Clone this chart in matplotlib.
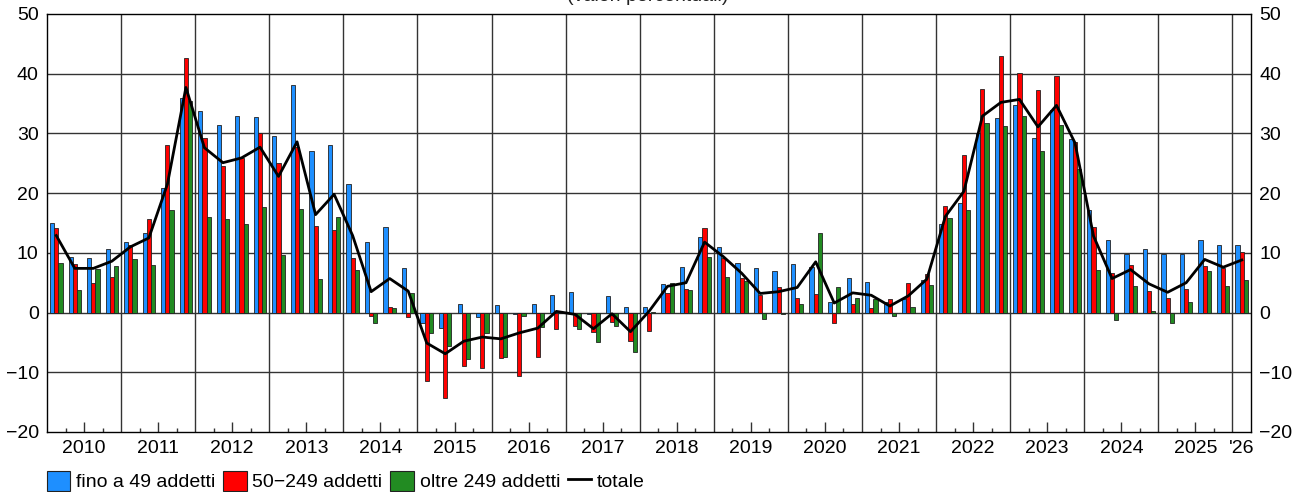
import matplotlib
matplotlib.use("Agg")
import matplotlib.pyplot as plt
from matplotlib.patches import Patch
from matplotlib.lines import Line2D
import numpy as np

plt.rcParams['font.family'] = ['Liberation Sans', 'DejaVu Sans']

year_labels = [str(y) for y in range(2010, 2026)] + ["'26"]
series_names = ["fino a 49 addetti", "50\u2212249 addetti", "oltre 249 addetti", "totale"]

# quarterly values 2010Q1 .. 2026Q1
small = [15.0, 9.3, 9.2, 10.6,
         11.9, 13.3, 20.9, 35.9,
         33.8, 31.4, 33.0, 32.8,
         29.6, 38.1, 27.1, 28.0,
         21.6, 11.8, 14.3, 7.4,
         -1.7, -2.5, 1.5, -0.7,
         1.3, -0.3, 1.5, 3.0,
         3.5, -0.3, 2.8, 1.0,
         1.0, 4.8, 7.6, 12.6,
         11.0, 8.3, 7.5, 6.9,
         8.2, 7.7, 1.8, 5.8,
         5.2, 1.8, 2.2, 5.5,
         14.8, 18.3, 30.0, 32.6,
         34.8, 29.3, 34.0, 29.1,
         17.2, 12.1, 9.8, 10.7,
         9.8, 9.8, 12.1, 11.3,
         11.3]
medium = [14.2, 8.2, 4.9, 6.0,
          11.3, 15.7, 28.0, 42.7,
          29.2, 24.5, 25.9, 30.0,
          25.0, 27.7, 14.5, 13.8,
          9.1, -0.6, 0.9, -0.8,
          -11.4, -14.3, -8.9, -9.2,
          -7.6, -10.7, -7.4, -2.8,
          -2.3, -3.2, -1.6, -4.8,
          -3.1, 3.2, 4.0, 14.1,
          9.2, 5.8, 2.9, 4.2,
          2.4, 3.1, -1.8, 1.4,
          0.7, 2.2, 5.0, 6.4,
          17.9, 26.4, 37.5, 42.9,
          40.2, 37.3, 39.6, 28.6,
          14.3, 6.7, 7.9, 3.6,
          2.5, 3.9, 7.8, 7.4,
          10.1]
large = [8.3, 3.8, 7.3, 7.8,
         8.9, 8.0, 17.1, 35.5,
         16.0, 15.7, 14.8, 17.7,
         9.7, 17.3, 5.7, 16.0,
         7.1, -1.8, 0.7, 3.2,
         -3.5, -5.6, -7.8, -3.4,
         -7.4, -0.6, -2.4, 0.0,
         -2.8, -4.9, -2.3, -6.6,
         0.1, 5.0, 3.7, 9.3,
         5.9, 5.3, -1.0, -0.3,
         1.4, 13.4, 4.3, 2.4,
         2.2, -0.6, 0.9, 4.7,
         15.8, 17.2, 31.7, 31.2,
         33.0, 27.0, 31.4, 24.0,
         7.1, -1.3, 4.4, 0.2,
         -1.8, 1.7, 6.9, 4.4,
         5.4]
total = [12.9, 7.4, 7.4, 8.6,
         11.0, 12.5, 21.5, 37.7,
         27.6, 25.1, 25.9, 27.7,
         22.8, 28.6, 16.4, 19.8,
         12.9, 3.5, 5.7, 3.6,
         -5.1, -6.9, -4.8, -4.1,
         -4.4, -3.4, -2.6, 0.2,
         -0.3, -2.7, -0.2, -3.2,
         0.2, 4.4, 5.0, 11.8,
         9.4, 6.6, 3.2, 3.5,
         4.2, 8.5, 1.6, 3.3,
         2.9, 1.1, 2.8, 5.6,
         16.1, 20.3, 32.9, 35.2,
         35.7, 31.1, 34.7, 28.4,
         12.8, 5.7, 7.2, 4.8,
         3.4, 5.0, 8.9, 7.6,
         8.8]

colors = ['#1E8FFF', '#FF0000', '#228B22']
FS = 14

fig = plt.figure(figsize=(13.03, 4.92), dpi=100)
ax = fig.add_axes([47/1303, 1-432/492, (1251-47)/1303, (432-14)/492])

n = len(small)
x = np.arange(n)
w = 0.225
for vals, off, c in zip([small, medium, large], [-w, 0, w], colors):
    ax.bar(x + off, vals, width=w, color=c, edgecolor='#222222', linewidth=0.6, zorder=3)
ax.plot(x, total, color='black', linewidth=2, zorder=4)

ax.set_xlim(-0.5, n - 0.5)
ax.set_ylim(-20, 50)
ax.set_yticks(np.arange(-20, 51, 10))
ax.yaxis.set_major_formatter(matplotlib.ticker.FuncFormatter(
    lambda v, p: ('\u2212%d' % abs(v)) if v < 0 else '%d' % v))
ax.tick_params(axis='y', length=0, labelsize=FS, pad=6, left=True, right=True,
               labelleft=True, labelright=True)

# horizontal grid
for yv in range(-10, 50, 10):
    ax.axhline(yv, color='#333333', linewidth=1, zorder=1)
# vertical year boundaries
for k in range(1, 17):
    ax.axvline(-0.5 + 4 * k, color='#333333', linewidth=1, zorder=1)

# x ticks: year labels at mid-year (long ticks), quarter short ticks
centers = [1.5 + 4 * k for k in range(16)] + [64]
ax.set_xticks(centers)
ax.set_xticklabels(year_labels)
ax.tick_params(axis='x', which='major', direction='in', length=7, width=1,
               labelsize=FS, pad=6, color='#333333')
ax.xaxis.get_major_ticks()[-1].tick1line.set_visible(False)
minor = []
for k in range(16):
    minor += [0.5 + 4 * k, 2.5 + 4 * k]
ax.set_xticks(minor, minor=True)
ax.tick_params(axis='x', which='minor', direction='in', length=3, width=1, color='#333333')

for s in ax.spines.values():
    s.set_color('black')
    s.set_linewidth(1)

fig.text(0.497, 0.997, '(valori percentuali)', ha='center', va='baseline',
         fontsize=FS, color='#222222')

handles = [Patch(facecolor=c, edgecolor='#222222', linewidth=0.8) for c in colors]
handles.append(Line2D([0], [0], color='black', linewidth=2))
fig.legend(handles, series_names, loc='center left',
           bbox_to_anchor=(47/1303, 1 - 481/492), ncol=4, frameon=False,
           fontsize=FS, handlelength=1.2, handleheight=1.2,
           handletextpad=0.3, columnspacing=0.4, borderpad=0, borderaxespad=0)

fig.savefig('out.png', dpi=100)
